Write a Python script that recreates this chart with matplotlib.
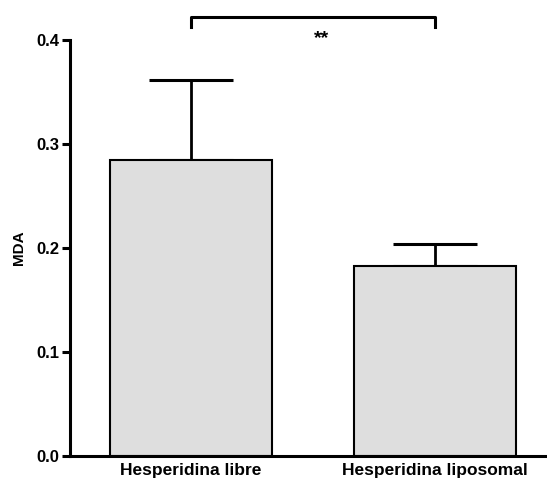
import matplotlib.pyplot as plt
import numpy as np

groups = ["Hesperidina libre", "Hesperidina liposomal"]
means = [0.285, 0.183]
sem = [0.077, 0.021]
yticks = [0.0, 0.1, 0.2, 0.3, 0.4]

plt.rcParams['font.family'] = ['Liberation Sans', 'DejaVu Sans']
plt.rcParams['font.weight'] = 'bold'

fig = plt.figure(figsize=(5.47, 4.83), dpi=100)
ax = fig.add_axes([70 / 547, 27 / 483, 487 / 547, 416 / 483])

x = np.arange(len(groups))
ax.errorbar(x, means, yerr=[np.zeros(len(sem)), sem], fmt='none', ecolor='black',
            elinewidth=2.0, capsize=30, capthick=2.2, zorder=1)
ax.bar(x, means, width=0.664, color='#dedede', edgecolor='black', linewidth=1.5, zorder=2)

# significance bracket
ax.plot([0, 0, 1, 1], [0.4125, 0.422, 0.422, 0.4125], color='black', lw=2.2, clip_on=False)
ax.text(0.535, 0.401, '**', ha='center', va='center', fontsize=14, fontweight='bold')

ax.set_xlim(-0.496, 1.5)
ax.set_ylim(0, 0.4)
ax.set_yticks(yticks)
ax.set_yticklabels([f"{t:.1f}" for t in yticks], fontsize=12, fontweight='bold')
ax.set_xticks(x)
ax.set_xticklabels(groups, fontsize=12.5, fontweight='bold')
ax.tick_params(axis='x', length=0, pad=5)
ax.tick_params(axis='y', length=6, width=2.2, pad=2)
ax.set_ylabel('MDA', fontsize=11, fontweight='bold', labelpad=7)

for s in ['top', 'right']:
    ax.spines[s].set_visible(False)
for s in ['left', 'bottom']:
    ax.spines[s].set_linewidth(2.2)

fig.savefig('out.png', dpi=100)
